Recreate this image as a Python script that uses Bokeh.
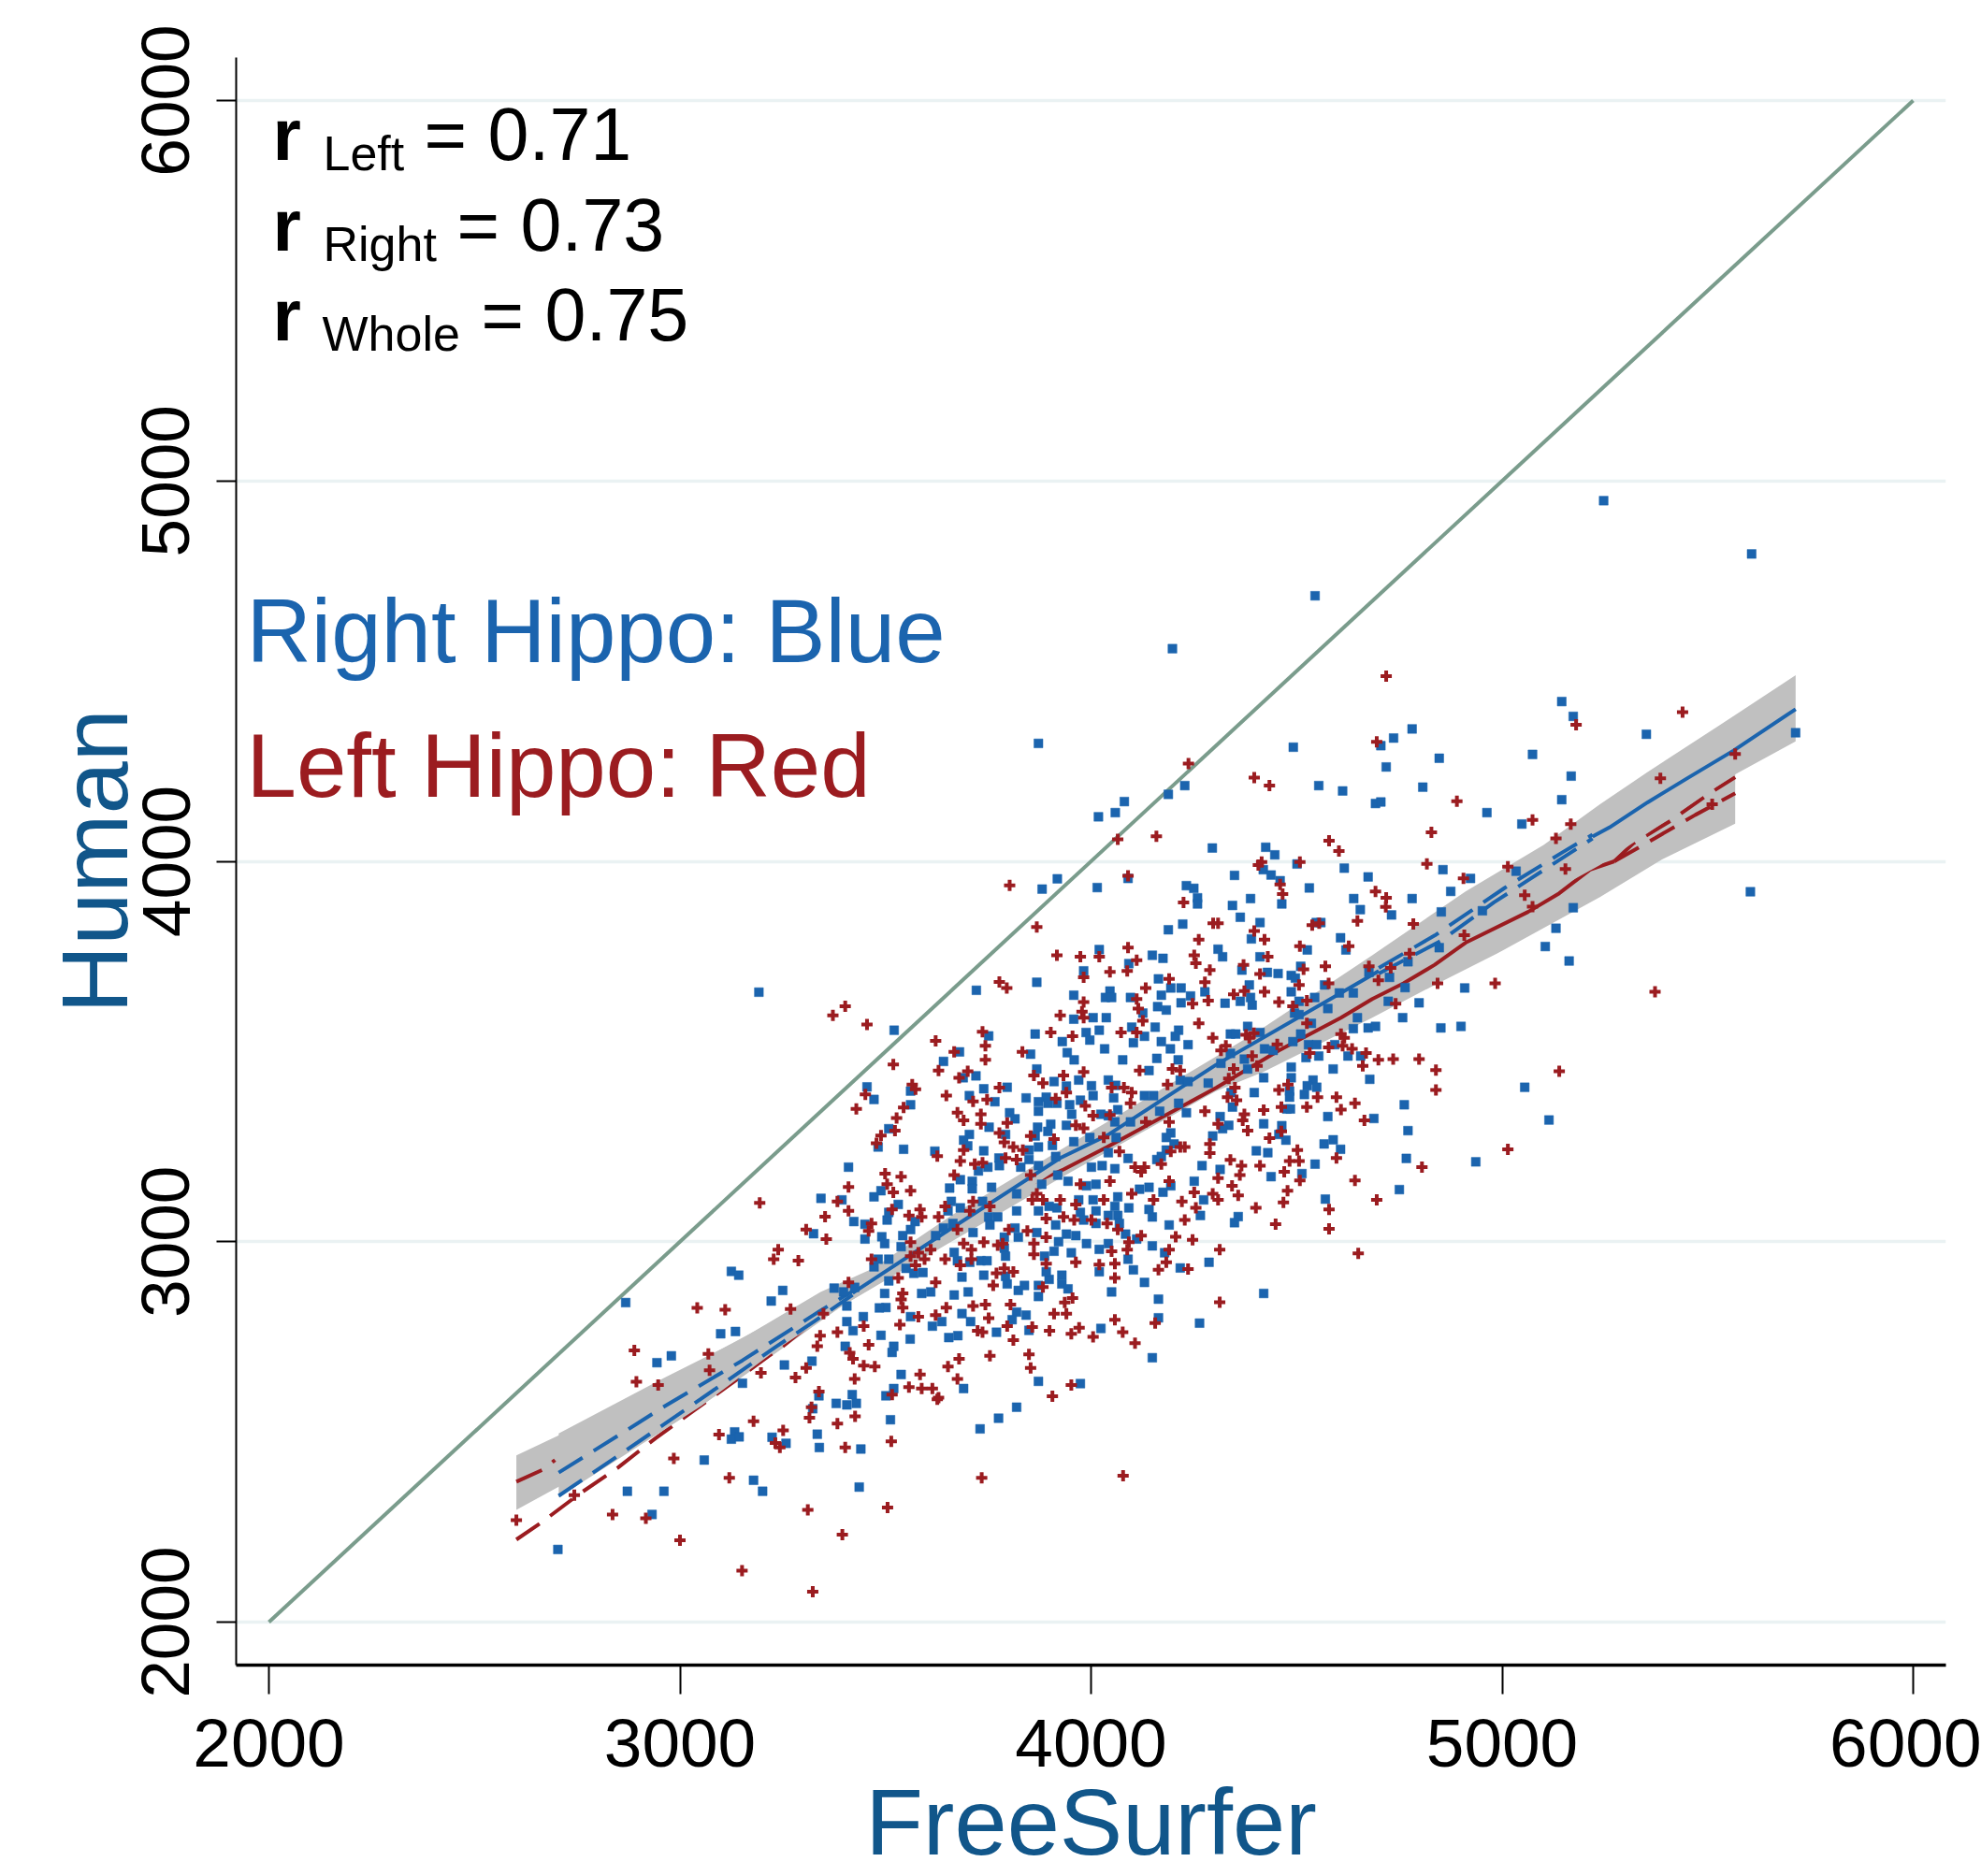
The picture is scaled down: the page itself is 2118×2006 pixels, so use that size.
from bokeh.plotting import figure
from bokeh.models import FixedTicker, Range1d
from bokeh.core.properties import value
from bokeh.embed import file_html
from bokeh.resources import INLINE

# ---------- axes ----------
x_ticks = [2000, 3000, 4000, 5000, 6000]
y_ticks = [2000, 3000, 4000, 5000, 6000]
x_title = "FreeSurfer"
y_title = "Human"

# ---------- identity line ----------
identity_x = [2000, 6000]
identity_y = [2000, 6000]

# ---------- scatter: right hippocampus (blue) ----------
blue_points = [
 (3192,3656),(3721,3661),(3868,3682),(4020,3768),(4149,3753),(4175,3745),(4092,3731),(3982,3712),(3958,3648),(4046,3659),
 (4035,3642),(4050,3642),(4096,3642),(4164,3691),(4194,3667),(4219,3667),(4242,3646),(4277,3657),(4171,3648),(4219,3628),
 (4162,3618),(4183,3609),(4126,3601),(3958,3585),(4005,3589),(4037,3589),(4099,3564),(4156,3564),(4213,3556),(4020,3556),
 (3988,3550),(3864,3546),(3521,3556),(3751,3541),(3997,3530),(3930,3526),(4103,3523),(4130,3540),(4171,3526),(4205,3540),
 (4236,3518),(4033,3507),(4193,3507),(3680,3499),(3853,3493),(3942,3497),(3959,3478),(4077,3478),(4160,3482),(4212,3478),
 (3641,3474),(3868,3454),(4141,3450),(3689,3431),(3720,3436),(3455,3407),(3561,3396),(3472,3374),(3561,3360),(3739,3402),
 (3796,3406),(3704,3384),(3842,3378),(3766,3368),(3872,3368),(3891,3380),(3895,3364),(3917,3364),(3940,3409),(3910,3421),
 (3970,3425),(4001,3410),(4005,3384),(3974,3372),(3948,3360),(3872,3343),(3953,3335),(4042,3425),(4060,3411),(4055,3378),
 (4065,3347),(4024,3335),(4042,3331),(3802,3339),(3815,3323),(3752,3301),(3870,3301),(3902,3309),(3940,3306),(3895,3290),
 (3508,3297),(3482,3249),(3544,3243),(3620,3238),(3704,3282),(3690,3267),(3700,3252),(3739,3239),(3792,3282),(3864,3278),
 (3906,3253),(3958,3263),(3997,3274),(4058,3315),(4096,3315),(4061,3274),(4042,3234),(3849,3241),(3776,3220),(3777,3200),
 (3849,3216),(3914,3224),(3872,3249),(3410,3196),(3726,3186),(3749,3196),(3829,3196),(3872,3200),(4001,3196),(4027,3200),
 (4058,3192),(4090,3219),(3919,3175),(3944,3159),(3656,3141),(3682,3163),(3711,3159),(3711,3139),(3758,3143),(3880,3151),
 (3989,3147),(4012,3151),(4130,3384),(4152,3384),(4167,3343),(4213,3364),(4232,3339),(4217,3425),(4236,3421),(4285,3417),
 (4194,3286),(4183,3274),(4202,3257),(4183,3241),(4160,3216),(4171,3224),(4270,3200),(4296,3278),(4251,3159),(4194,3147),
 (4175,3130),(4274,3110),(4266,3069),(4118,3138),(4141,3143),(4065,3118),(4092,3089),(4058,3093),(4042,3069),(4065,3069),
 (4069,3048),(4084,3020),(4111,3007),(4149,2989),(4149,3065),(4141,3085),(4190,3044),(4179,2971),(4090,2954),(3970,3110),
 (4005,3110),(4012,3081),(3917,3089),(3898,3093),(3872,3081),(3974,3077),(3982,3057),(4012,3048),(3914,3044),(3868,3024),
 (3940,3020),(3963,3016),(3989,2995),(4020,2980),(4042,2995),(3921,3000),(3910,2975),(3887,2962),(3952,2971),(3789,3012),
 (3823,3012),(3815,3036),(3789,2983),(3792,2962),(3713,3024),(3732,2950),(3747,2950),(3705,2946),(3675,2950),(3751,3065),
 (3754,3044),(3773,3065),(3819,3081),(3819,3126),(3736,3106),(3660,3106),(3652,3081),(3682,3089),(3641,3036),(3664,3048),
 (3622,3016),(3572,3053),(3561,3032),(3542,3016),(3504,3057),(3508,3077),(3531,3098),(3489,3134),(3472,3118),(3394,3110),
 (3343,3114),(3423,3053),(3450,3046),(3450,3007),(3491,3013),(3498,2995),(3538,2987),(3325,3021),(3667,2972),(3472,2934),
 (3482,2954),(3508,2954),(3550,2930),(3569,2917),(3591,2919),(3508,2897),(3686,2907),(3739,2912),(3792,2909),(3929,2912),
 (3898,2901),(3891,2921),(4050,2868),(4130,2893),(4103,2926),(4020,2921),(4217,2931),(4287,2946),(4164,2849),(4164,2800),
 (4264,2786),(4149,2695),(3796,2889),(3838,2885),(3823,2872),(3872,2885),(3872,2856),(3929,2889),(3944,2876),(3250,2872),
 (3222,2844),(3375,2878),(3398,2868),(3425,2880),(3406,2831),(3406,2790),(3446,2803),(3421,2766),(3402,2725),(3489,2754),
 (3501,2827),(3485,2826),(3498,2864),(3588,2864),(3610,2868),(3667,2860),(3701,2868),(3561,2803),(3637,2790),(3614,2778),
 (3686,2811),(3707,2790),(3770,2762),(3842,2807),(3819,2815),(3808,2795),(3849,2767),(4024,2772),(3560,2744),(3654,2748),
 (3676,2753),(3520,2725),(3516,2709),(3254,2676),(3321,2686),(3538,2651),(3520,2614),(3501,2595),(3690,2614),(3872,2633),
 (3974,2627),(3419,2598),(3338,2595),(3380,2575),(3406,2571),(3429,2575),(3323,2561),(3512,2532),(3334,2494),(3339,2459),
 (3440,2455),(3436,2355),(3730,2508),(3775,2536),(3819,2565),(2868,2840),(3125,2922),(3143,2912),(3099,2758),(3135,2764),
 (2944,2682),(2979,2700),(3152,2628),(3133,2500),(3125,2481),(3144,2487),(3059,2426),(2872,2344),(2961,2344),(2932,2283),
 (2703,2191),(3179,2373),(3201,2344),(3224,2486),(3258,2470),
 (4390,3796),(4526,3767),(4607,3799),(4620,3767),(4320,3749),(4309,3769),(4411,3749),(4510,3724),(4367,3714),(4429,3708),
 (4455,3705),(4487,3700),(4497,3693),(4385,3675),(4568,3675),(4487,3657),(4388,3642),(4363,3632),(4392,3622),(4326,3627),
 (4506,3632),(4544,3642),(4576,3613),(4495,3601),(4506,3597),(4604,3654),(4638,3654),(4676,3708),(4726,3695),(4771,3736),
 (4847,3773),(5105,3776),(5163,3738),(4909,3667),(4764,3668),(4723,3632),(4798,3628),(4758,3589),(4648,3589),(4638,3560),
 (4674,3562),(4692,3566),(4851,3562),(4900,3566),(4536,3574),(4381,3566),(4339,3546),(4352,3546),(4411,3550),(4510,3546),
 (4491,3526),(4529,3518),(4549,3518),(4593,3518),(4422,3507),(4443,3503),(4339,3495),(4373,3480),(4316,3469),(4523,3484),
 (4554,3488),(4625,3488),(4656,3488),(4487,3459),(4589,3454),(4381,3454),(4420,3431),(4487,3431),(4540,3425),(4526,3410),
 (4549,3406),(4678,3427),(5055,3406),(4341,3392),(4397,3392),(4483,3396),(4483,3380),(4519,3387),(4344,3354),(4476,3349),
 (4485,3349),(4762,3360),(4576,3329),(4688,3324),(5114,3320),(4314,3329),(4335,3306),(4320,3297),(4420,3310),(4464,3305),
 (4457,3282),(4474,3267),(4771,3292),(4589,3268),(4567,3257),(4607,3243),(4402,3239),(4430,3234),(4767,3219),(4545,3204),
 (4936,3210),(4314,3190),(4513,3179),(4438,3171),(4750,3137),(4570,3112),(4358,3066),(4349,3050),(4420,2864),
 (5145,4420),(5173,4381),(4781,4348),(4736,4324),(4705,4304),(4492,4300),(4847,4271),(5074,4281),(4718,4248),(5168,4224),
 (4554,4199),(4612,4185),(4807,4195),(4692,4152),(4705,4156),(5145,4162),(4963,4128),(5048,4098),(4425,4037),(4447,4017),
 (4349,3963),(4419,3978),(4438,3964),(4460,3949),(4501,3993),(4616,3982),(4674,3959),(4856,3978),(4923,3955),(5034,3974),
 (4531,3930),(4875,3921),(4639,3902),(4781,3902),(4388,3902),(4344,3884),(4464,3888),(4655,3873),(4731,3859),(4852,3867),
 (4952,3870),(4363,3853),(4411,3839),(4559,3839),(4548,3839),(5173,3878),(5131,3824),
 (5247,4948),(5607,4808),(5714,4338),(5604,3920),(4545,4698),(4198,4559),(5351,4334),
 (3872,4310),(4081,4157),(4059,4128),(4018,4117),(4188,4176),(4228,4199),(4295,4035),(3918,3954),(3881,3927),(4015,3931),
 (4090,3955),(4232,3936),(4250,3929),(4259,3904),(4259,3888),(4223,3835),(4188,3820),
]

# ---------- scatter: left hippocampus (red) ----------
red_points = [
 (3917,3753),(3974,3749),(4020,3749),(4090,3773),(4111,3740),(3982,3695),(4046,3709),(4088,3712),(4190,3691),(4262,3794),
 (4251,3753),(4255,3732),(4289,3714),(4277,3682),(4133,3667),(4111,3638),(4115,3613),(4247,3626),(4285,3634),(3982,3630),
 (3978,3605),(3925,3595),(3982,3589),(4126,3581),(4262,3574),(4073,3550),(4111,3550),(3902,3550),(3955,3540),(4296,3536),
 (3777,3683),(3795,3667),(3402,3619),(3372,3595),(3455,3571),(3622,3528),(3736,3552),(3743,3515),(3667,3499),(3833,3499),
 (3743,3478),(3519,3466),(3629,3450),(3679,3431),(3700,3448),(3861,3437),(3933,3437),(3982,3446),(3883,3417),(4198,3454),
 (4118,3450),(4217,3450),(4186,3413),(3565,3413),(3451,3387),(3573,3401),(3777,3405),(3648,3384),(3713,3369),(3747,3374),
 (3940,3392),(3914,3376),(4050,3405),(4080,3405),(4099,3392),(4096,3364),(3986,3357),(3429,3349),(3544,3353),(3675,3339),
 (3732,3335),(3527,3325),(3690,3319),(3732,3310),(4005,3331),(4046,3333),(4277,3343),(3523,3292),(3489,3279),(3478,3259),
 (3796,3312),(3777,3286),(3963,3306),(3982,3298),(3853,3278),(3910,3270),(4031,3274),(4190,3315),(4133,3315),(3690,3241),
 (3626,3225),(3682,3212),(3717,3204),(3736,3208),(3789,3261),(3811,3249),(3834,3241),(3792,3220),(3819,3216),(4069,3237),
 (4107,3196),(4130,3196),(4217,3249),(4228,3249),(4171,3204),(4194,3237),(4289,3257),(4289,3233),(3538,3171),(3499,3179),
 (3504,3151),(3519,3130),(3410,3144),(3561,3134),(3667,3175),(3194,3102),(3383,3106),(3410,3081),(3353,3066),(3516,3085),
 (3584,3085),(3557,3069),(3588,3065),(3629,3065),(3466,3048),(3459,3028),(3307,3032),(3356,3007),(3645,3093),(3713,3106),
 (3705,3081),(3754,3093),(3853,3175),(3868,3126),(3857,3110),(3883,3110),(3925,3110),(3963,3098),(3974,3151),(4031,3110),
 (4099,3126),(4122,3184),(4046,3159),(4152,3110),(4190,3159),(4221,3106),(4251,3130),(4255,3089),(4228,3057),(4206,3013),
 (4247,3005),(4296,3126),(3891,3061),(3933,3065),(3959,3057),(4001,3057),(4039,3048),(4065,3032),(4122,3016),(3800,3032),
 (3845,3028),(3891,3012),(3861,2995),(3785,2995),(3773,2991),(3739,2999),(3690,2995),(3709,2979),(4092,2999),(4088,2979),
 (3861,2967),(3963,2946),(3891,2942),(4190,2979),(4183,2946),(4050,2975),(4020,2940),(4058,2942),(4236,2928),(4164,2926),
 (3645,2954),(3610,2979),(3580,2971),(3561,2999),(3595,2954),(3561,2962),(3573,2938),(3466,2954),(3239,2979),(3228,2954),
 (3288,2950),(3675,3032),(3682,2938),(3709,2954),(3770,2917),(3811,2921),(3789,2930),(3531,2905),(3622,2893),(3762,2885),
 (3883,2881),(4058,2905),(3410,2893),(3542,2864),(3538,2848),(3542,2827),(3648,2827),(3804,2835),(3713,2831),(3743,2835),
 (3955,2852),(3936,2840),(3910,2811),(3940,2811),(3622,2807),(3580,2803),(3535,2782),(3447,2778),(3383,2762),(3341,2753),
 (3334,2725),(3269,2823),(3349,2811),(3751,2799),(3796,2778),(4058,2795),(4156,2786),(3857,2776),(3899,2766),(3971,2774),
 (3952,2758),(3724,2766),(3736,2762),(4005,2750),(3811,2741),(4077,2762),(4107,2733),(3459,2729),(3413,2708),(3421,2692),
 (3849,2704),(3754,2700),(3679,2692),(3652,2672),(3307,2668),(3281,2643),(3197,2655),(3447,2674),(3474,2672),(3853,2668),
 (3425,2639),(3584,2651),(3675,2639),(3557,2618),(3588,2614),(3614,2614),(3952,2623),(3338,2606),(3629,2590),(3906,2594),
 (3516,2598),
 (3042,2826),(3110,2821),(2889,2714),(3069,2705),(3072,2662),(2894,2632),(2947,2623),(3179,2528),(3095,2493),(2985,2430),
 (3120,2379),(2836,2283),(2917,2273),(2602,2268),(3000,2215),(2743,2334),(3251,2504),(3232,2471),(3243,2459),(3311,2295),
 (3505,2301),(3395,2230),(3151,2135),(3323,2080),(3402,2459),(3514,2475),(3315,2537),(3383,2522),(3426,2541),(3320,2565),
 (3734,2379),(4078,2385),(3626,2586),
 (4422,3794),(4508,3777),(4627,3777),(4430,3749),(4371,3728),(4517,3716),(4570,3724),(4411,3704),(4506,3675),(4578,3679),
 (4422,3657),(4373,3659),(4347,3650),(4457,3630),(4491,3619),(4525,3634),(4676,3724),(4729,3720),(4775,3757),(4699,3687),
 (4843,3679),(4983,3679),(4741,3626),(4525,3574),(4377,3544),(4396,3548),(4385,3536),(4328,3515),(4316,3503),(4453,3519),
 (4578,3511),(4608,3546),(4616,3536),(4612,3515),(4635,3507),(4669,3496),(4532,3496),(4392,3488),(4699,3478),(4735,3480),
 (4798,3480),(4839,3451),(5139,3448),(4661,3462),(4404,3462),(4347,3454),(4335,3429),(4839,3399),(4350,3405),(4457,3399),
 (4479,3413),(4332,3380),(4354,3372),(4551,3380),(4597,3380),(4642,3364),(4525,3354),(4608,3347),(4463,3354),(4420,3346),
 (4373,3335),(4369,3319),(4665,3319),(4381,3292),(4434,3272),(4309,3310),(4463,3290),(4502,3241),(4597,3220),(5014,3243),
 (4339,3215),(4366,3200),(4411,3200),(4483,3212),(4506,3212),(4805,3196),(4470,3184),(4362,3175),(4309,3167),(4642,3161),
 (4508,3161),(4343,3147),(4478,3134),(4358,3122),(4695,3110),(4468,3103),(4309,3110),(4401,3089),(4579,3085),(4449,3046),
 (4579,3034),(4313,2979),(4650,2969),(4313,2841),
 (4718,4487),(5180,4359),(4695,4314),(4397,4220),(4434,4199),(4890,4158),(5074,4109),(5167,4098),(4828,4076),(5131,4060),
 (4579,4054),(4603,4027),(4817,3993),(5014,3986),(4415,3998),(4407,3990),(4508,3998),(5154,3980),(4906,3955),(4460,3939),
 (4466,3914),(4692,3921),(4718,3904),(4717,3880),(5055,3911),(5074,3881),(4648,3843),(4538,3832),(4555,3837),(4784,3835),
 (4397,3817),(4309,3837),(4908,3806),(5439,4392),(5385,4218),(5567,4282),(5511,4150),(5372,3657),(4237,4257),(4159,4066),
 (4065,4058),(3802,3937),(4090,3962),(3868,3827),(4225,3892),(4297,3837),
]

# ---------- confidence bands ----------
red_band_x = [2602,2703,2864,3053,3243,3394,3660,3925,4115,4304,4419,4684,4836,4987,5238,5389,5567]
red_band_low = [2295,2355,2440,2569,2715,2831,3000,3167,3282,3396,3446,3589,3675,3757,3906,4005,4099]
red_band_high = [2438,2490,2580,2690,2800,2880,3050,3225,3345,3455,3530,3700,3800,3890,4060,4170,4280]
blue_band_top_x = [2705,2963,3144,3342,3470,3660,3925,4115,4304,4404,4684,4911,5101,5238,5354,5528,5714]
blue_band_top = [2496,2643,2741,2868,2930,3069,3241,3364,3487,3552,3753,3921,4043,4150,4235,4357,4489]
blue_band_bot_x = [2705,2864,3053,3243,3394,3660,3925,4115,4304,4684,4987,5238,5563,5714]
blue_band_bot = [2328,2438,2569,2722,2831,3005,3195,3300,3440,3650,3840,3990,4226,4315]

# ---------- fit lines ----------
red_low_dash_x = [2602,2663,2754,2849,2940,3035,3125,3216,3250]
red_low_dash_y = [2217,2262,2336,2406,2483,2557,2627,2700,2725]
red_up_dash_x = [2602,2667,2696]
red_up_dash_y = [2369,2401,2426]
red_mid_x = [3250,3394,3622,3795,3933,4039,4305,4457,4608,4684,4760,4836,4911,5063,5139,5214,5273]
red_mid_y = [2725,2852,3020,3125,3190,3249,3405,3503,3589,3638,3679,3728,3786,3867,3916,3978,4000]
red_hi_up_x = [5273,5319,5412,5505,5567]
red_hi_up_y = [4000,4047,4108,4179,4221]
red_hi_lo_x = [5273,5372,5470,5567]
red_hi_lo_y = [4000,4061,4122,4179]

blue_lo_up_x = [2705,2864,2959,3152,3342,3420]
blue_lo_up_y = [2393,2500,2565,2688,2819,2870]
blue_lo_lo_x = [2705,2860,3050,3235,3326,3420]
blue_lo_lo_y = [2332,2445,2586,2725,2790,2860]
blue_mid_x = [3420,3660,3925,4040,4304,4608,4700]
blue_mid_y = [2865,3035,3220,3280,3465,3654,3712]
blue_hi_up_x = [4700,4836,5006,5146,5220]
blue_hi_up_y = [3720,3805,3930,4023,4070]
blue_hi_lo_x = [4700,4850,4980,5067,5220]
blue_hi_lo_y = [3705,3790,3892,3953,4060]
blue_end_x = [5220,5261,5354,5447,5563,5714]
blue_end_y = [4065,4089,4155,4216,4291,4400]

BLUE = "#1b64ae"
RED = "#9b1c20"
GREY = "#c0c0c0"
NAVY = "#11568a"
FONT = "Liberation Sans"

# plot frame position in the image
LEFT, RIGHT, TOP, BOTTOM = 252, 2080, 61, 1781
W, H = 2118, 2006
def dx(px): return 2000 + (px - 287) / 0.4395
def dy(py): return 2000 + (1735 - py) / 0.407

p = figure(width=W, height=H, output_backend="svg", toolbar_location=None,
           x_range=Range1d(dx(LEFT), dx(RIGHT)), y_range=Range1d(dy(BOTTOM), dy(TOP)),
           min_border_left=LEFT, min_border_right=W-RIGHT,
           min_border_top=TOP, min_border_bottom=H-BOTTOM,
           background_fill_color="white", border_fill_color="white")
p.outline_line_color = None
p.xgrid.visible = False
p.ygrid.ticker = FixedTicker(ticks=y_ticks)
p.ygrid.grid_line_color = "#eaf2f3"
p.ygrid.grid_line_width = 3.5
p.xaxis.ticker = FixedTicker(ticks=x_ticks)
p.yaxis.ticker = FixedTicker(ticks=y_ticks)
for ax, title in ((p.xaxis, x_title), (p.yaxis, y_title)):
    ax.axis_label = title
    ax.axis_label_text_font = FONT
    ax.axis_label_text_font_size = "101px"
    ax.axis_label_text_font_style = "normal"
    ax.axis_label_text_color = NAVY
    ax.major_label_text_font = FONT
    ax.major_label_text_font_size = "73px"
    ax.major_label_text_color = "black"
    ax.major_tick_line_color = "black"
    ax.major_tick_in = 0
    ax.minor_tick_line_color = None
    ax.axis_line_color = "black"
p.xaxis.major_tick_out = 31
p.xaxis.major_tick_line_width = 2
p.xaxis.axis_line_width = 3.5
p.xaxis.major_label_standoff = 27
p.xaxis.axis_label_standoff = 0
p.yaxis.major_tick_out = 21
p.yaxis.major_tick_line_width = 2
p.yaxis.axis_line_width = 2
p.yaxis.major_label_orientation = "vertical"
p.yaxis.major_label_standoff = 29
p.yaxis.axis_label_standoff = -7

# red band and lines, then blue band and lines above them
p.patch(red_band_x + red_band_x[::-1], red_band_high + red_band_low[::-1], fill_color=GREY, line_color=None)
DASH = "30 14"
LW = 4
for xs, ys, dash in ((red_low_dash_x, red_low_dash_y, DASH), (red_up_dash_x, red_up_dash_y, DASH),
                     (red_mid_x, red_mid_y, "solid"), (red_hi_up_x, red_hi_up_y, DASH), (red_hi_lo_x, red_hi_lo_y, DASH)):
    p.line(xs, ys, line_color=RED, line_width=LW, line_dash=dash)
p.patch(blue_band_top_x + blue_band_bot_x[::-1], blue_band_top + blue_band_bot[::-1], fill_color=GREY, line_color=None)
for xs, ys, dash in ((blue_lo_up_x, blue_lo_up_y, DASH), (blue_lo_lo_x, blue_lo_lo_y, DASH),
                     (blue_mid_x, blue_mid_y, "solid"), (blue_hi_up_x, blue_hi_up_y, DASH),
                     (blue_hi_lo_x, blue_hi_lo_y, DASH), (blue_end_x, blue_end_y, "solid")):
    p.line(xs, ys, line_color=BLUE, line_width=LW, line_dash=dash)

p.line(identity_x, identity_y, line_color="#7a9c8c", line_width=4)

bx, by = zip(*blue_points)
rx, ry = zip(*red_points)
p.scatter(list(bx), list(by), marker="square", size=9.5, fill_color=BLUE, line_color=BLUE, line_width=0.5)
p.scatter(list(rx), list(ry), marker="cross", size=12, fill_color=None, line_color=RED, line_width=4)

def label(text, px, py, size, color="black", style="normal"):
    # the baseline of an svg text lands a third of the font size too low
    p.text([dx(px)], [dy(py - 0.34 * size)], text=[text], text_font=value(FONT), text_font_size=f"{size}px",
           text_color=color, text_font_style=style, text_baseline="alphabetic", text_align="left")

for r_py, sub, sub_px, eq_px, val, val_px in ((170, "Left", 345, 453, "0.71", 521),
                                              (267, "Right", 345, 488, "0.73", 556),
                                              (363, "Whole", 344, 514, "0.75", 582)):
    label("r", 291, r_py, 78, style="bold")
    label(sub, sub_px, r_py + 11, 52)
    label("=", eq_px, r_py, 78)
    label(val, val_px, r_py, 79)

label("Right Hippo: Blue", 263, 707, 96, color=BLUE)
label("Left Hippo: Red", 263, 851, 96, color=RED)

open("out.html", "w").write(file_html(p, INLINE))
